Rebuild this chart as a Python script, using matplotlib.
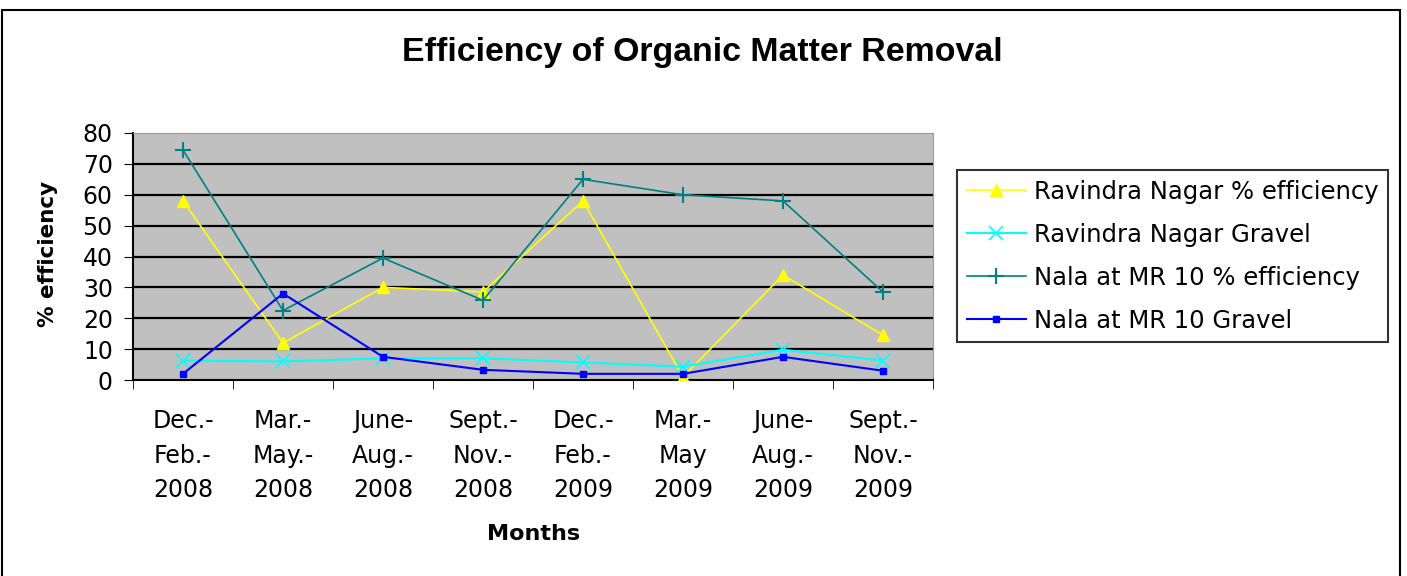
import matplotlib.pyplot as plt
from matplotlib.patches import Rectangle
import numpy as np

months = ["Dec.-\nFeb.-\n2008", "Mar.-\nMay.-\n2008", "June-\nAug.-\n2008", "Sept.-\nNov.-\n2008",
          "Dec.-\nFeb.-\n2009", "Mar.-\nMay\n2009", "June-\nAug.-\n2009", "Sept.-\nNov.-\n2009"]

ravindra_eff = [58, 12, 30, 28.5, 58, 1, 34, 14.5]
ravindra_gravel = [6.3, 6, 7, 7, 5.7, 4.3, 9.8, 6.3]
nala_eff = [74.5, 22.5, 39.5, 25.8, 65, 60, 58, 28.5]
nala_gravel = [2, 28, 7.5, 3.3, 2, 2, 7.5, 3]

plt.rcParams['font.family'] = ['DejaVu Sans']

fig = plt.figure(figsize=(14.07, 5.76), dpi=100)
ax = fig.add_axes([133 / 1407, 196 / 576, 800 / 1407, 247 / 576])

# rahmen um das ganze diagramm
fig.patches.append(Rectangle((2 / 1407, -0.02), 1398 / 1407, 0.02 + 566 / 576,
                             transform=fig.transFigure, fill=False,
                             edgecolor="black", linewidth=1.5))

x = np.arange(len(months))
ax.set_facecolor("#C0C0C0")
for v in range(10, 80, 10):
    ax.axhline(v, color="black", linewidth=1.6, zorder=1)

ax.plot(x, ravindra_eff, color="#FFFF00", marker="^", markersize=9, linewidth=1.2,
        label="Ravindra Nagar % efficiency", zorder=3)
ax.plot(x, ravindra_gravel, color="#00FFFF", marker="x", markersize=10, markeredgewidth=1.2,
        linewidth=1.5, label="Ravindra Nagar Gravel", zorder=3)
ax.plot(x, nala_eff, color="#008080", marker="+", markersize=12, markeredgewidth=1.5,
        linewidth=1.2, label="Nala at MR 10 % efficiency", zorder=3)
ax.plot(x, nala_gravel, color="#0000FF", marker="s", markersize=4, linewidth=1.5,
        label="Nala at MR 10 Gravel", zorder=3)

ax.set_xlim(-0.5, len(months) - 0.5)
ax.set_ylim(0, 80)
ax.set_yticks(range(0, 81, 10))
ax.tick_params(axis="y", labelsize=17, length=6.5, direction="out", pad=8)

ax.set_xticks(x)
ax.set_xticklabels(months, fontsize=17, linespacing=1.55)
ax.set_xticks(np.arange(-0.5, len(months), 1), minor=True)
ax.tick_params(axis="x", which="major", length=0, pad=21)
ax.tick_params(axis="x", which="minor", length=6.5, direction="out")

for side in ["top", "right"]:
    ax.spines[side].set_color("#999999")
ax.spines["left"].set_linewidth(1.5)
ax.spines["bottom"].set_linewidth(1.5)

fig.text(48 / 1407, 1 - 254 / 576, "% efficiency", rotation=90, ha="center", va="center",
         fontsize=15.5, fontweight="bold")
fig.text(534 / 1407, 1 - 534 / 576, "Months", ha="center", va="center",
         fontsize=16, fontweight="bold")
fig.text(702 / 1407, 1 - 52 / 576, "Efficiency of Organic Matter Removal", ha="center", va="center",
         fontsize=24.4, fontweight="bold", family="Liberation Sans")

leg = fig.legend(loc="upper left", bbox_to_anchor=(957 / 1407, 1 - 170 / 576),
                 borderaxespad=0, fontsize=17.5, frameon=True, fancybox=False, edgecolor="black",
                 handlelength=2.45, handletextpad=0.3, labelspacing=0.78, borderpad=0.4)
leg.get_frame().set_linewidth(1.5)

fig.savefig("out.png", dpi=100)
